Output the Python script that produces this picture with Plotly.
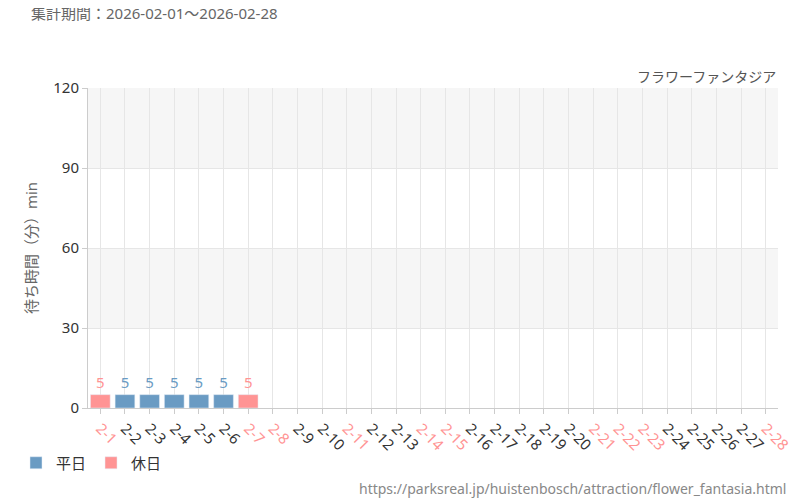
import plotly.graph_objects as go

days = [f"2-{i}" for i in range(1, 29)]
holidays = ["2-1", "2-7", "2-8", "2-11", "2-14", "2-15", "2-21", "2-22", "2-23", "2-28"]
wait = {"2-1": 5, "2-2": 5, "2-3": 5, "2-4": 5, "2-5": 5, "2-6": 5, "2-7": 5}

BLUE = "#6a9bc3"
RED = "#ff9494"

wk_x = [d for d in days if d not in holidays and d in wait]
ho_x = [d for d in days if d in holidays and d in wait]

fig = go.Figure()
fig.add_bar(x=wk_x, y=[wait[d] for d in wk_x], name="平日", marker_color=BLUE,
            text=[str(wait[d]) for d in wk_x], textposition="outside",
            textfont=dict(color=BLUE, size=15), cliponaxis=False)
fig.add_bar(x=ho_x, y=[wait[d] for d in ho_x], name="休日", marker_color=RED,
            text=[str(wait[d]) for d in ho_x], textposition="outside",
            textfont=dict(color=RED, size=15), cliponaxis=False)

for y0, y1 in [(30, 60), (90, 120)]:
    fig.add_shape(type="rect", xref="paper", yref="y", x0=0, x1=1, y0=y0, y1=y1,
                  fillcolor="#f6f6f6", line_width=0, layer="below")

ticktext = [f'<span style="color:{RED if d in holidays else "#333"}">{d}</span>' for d in days]

fig.update_layout(
    width=800, height=500, plot_bgcolor="white", paper_bgcolor="white",
    margin=dict(l=80, r=30, t=80, b=100, autoexpand=False),
    font=dict(family="Noto Sans, Noto Sans CJK JP", color="#555"),
    barmode="overlay", bargap=0.2,
    xaxis=dict(categoryorder="array", categoryarray=days, tickvals=days, ticktext=ticktext,
               tickangle=45, tickfont=dict(size=15), showgrid=True, gridcolor="#e6e6e6",
               range=[-0.5, 27.5], ticks="outside", ticklen=5, tickcolor="#ccc",
               showline=True, linecolor="#ccc", automargin=False),
    yaxis=dict(range=[0, 120], tickvals=[0, 30, 60, 90, 120], showgrid=True, gridcolor="#e6e6e6",
               tickfont=dict(size=15, color="#333"), ticks="outside", ticklen=5, tickcolor="#ccc",
               title=dict(text="待ち時間（分）min", font=dict(size=15, color="#666"), standoff=12),
               showline=True, linecolor="#ccc", zeroline=False, automargin=False),
    showlegend=True,
    legend=dict(orientation="h", x=0.01, y=0.09, xref="container", yref="container",
                xanchor="left", yanchor="middle", font=dict(size=15, color="#333")),
)
fig.add_annotation(text="集計期間：2026-02-01～2026-02-28", xref="paper", yref="paper",
                   x=-0.085, y=1.235, xanchor="left", yanchor="middle", showarrow=False,
                   font=dict(size=15, color="#666"))
fig.add_annotation(text="フラワーファンタジア", xref="paper", yref="paper",
                   x=1, y=1.0, xanchor="right", yanchor="bottom", showarrow=False,
                   font=dict(size=14, color="#555"))
fig.add_annotation(text="https://parksreal.jp/huistenbosch/attraction/flower_fantasia.html",
                   xref="paper", yref="paper", x=1.015, y=-0.25, xanchor="right", yanchor="middle",
                   showarrow=False, font=dict(size=14, color="#888"))
fig.write_html("out.html")
